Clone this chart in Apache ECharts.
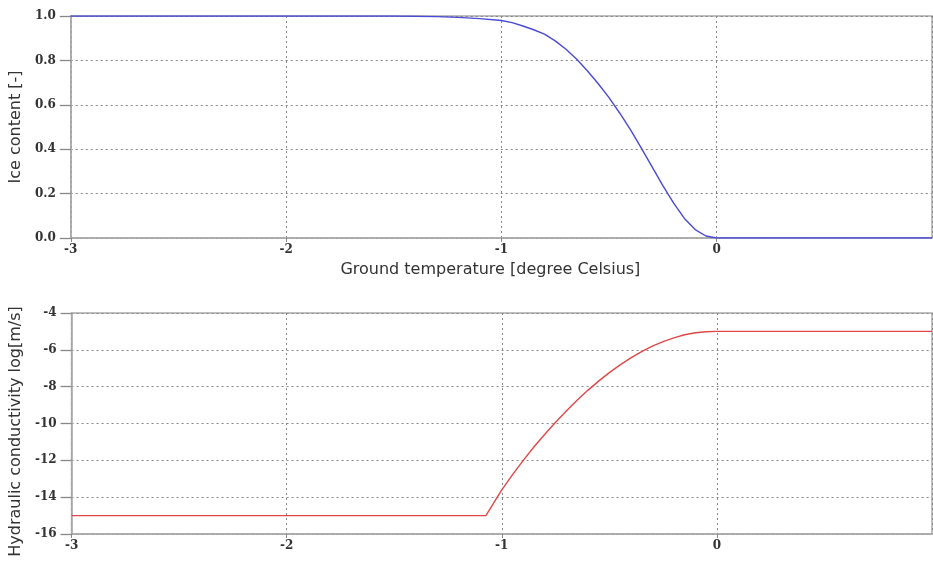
<!DOCTYPE html>
<html>
<head>
<meta charset="utf-8">
<script src="https://cdn.jsdelivr.net/npm/echarts@6/dist/echarts.min.js"></script>
<style>
  html, body { margin: 0; padding: 0; background: #fff; }
  #chart { width: 933px; height: 561px; }
</style>
</head>
<body>
<div id="chart"></div>
<script>
// ice content vs ground temperature
var iceTemp = [-3, -2, -1.5, -1.4, -1.3, -1.2, -1.1, -1.0, -0.95, -0.9, -0.85, -0.8, -0.75, -0.7, -0.65, -0.6, -0.55, -0.5, -0.45, -0.4, -0.35, -0.3, -0.25, -0.2, -0.15, -0.1, -0.05, 0, 1];
var iceContent = [1.0, 1.0, 1.0, 0.999, 0.997, 0.994, 0.988, 0.98, 0.97, 0.955, 0.938, 0.918, 0.888, 0.85, 0.805, 0.752, 0.695, 0.632, 0.562, 0.487, 0.405, 0.32, 0.236, 0.157, 0.088, 0.038, 0.009, 0.0, 0.0];

// hydraulic conductivity (log m/s) vs ground temperature
var condTemp = [-3, -1.074, -1.0, -0.95, -0.9, -0.85, -0.8, -0.75, -0.7, -0.65, -0.6, -0.55, -0.5, -0.45, -0.4, -0.35, -0.3, -0.25, -0.2, -0.15, -0.1, -0.05, 0, 1];
var condLog = [-15, -15, -13.6, -12.78, -12.0, -11.26, -10.58, -9.93, -9.32, -8.74, -8.2, -7.7, -7.24, -6.82, -6.44, -6.1, -5.8, -5.55, -5.35, -5.18, -5.07, -5.015, -5.0, -5.0];

var xTicks = [-3, -2, -1, 0, 1];
var iceTicks = [0.0, 0.2, 0.4, 0.6, 0.8, 1.0];
var condTicks = [-16, -14, -12, -10, -8, -6, -4];

function pairs(xs, ys) {
  return xs.map(function (x, i) { return [x, ys[i]]; });
}

var labelFont = {
  fontFamily: 'DejaVu Serif',
  fontWeight: 'bold',
  fontSize: 12,
  color: '#333'
};
var nameFont = {
  fontFamily: 'DejaVu Sans',
  fontSize: 16,
  color: '#333'
};
var dotted = { show: true, lineStyle: { color: '#888', type: [2, 3], width: 1 } };

function xAxis(gridIndex, name) {
  return {
    type: 'value',
    gridIndex: gridIndex,
    position: 'bottom',
    min: xTicks[0],
    max: xTicks[xTicks.length - 1],
    interval: 1,
    name: name,
    nameLocation: 'middle',
    nameGap: 24,
    nameTextStyle: Object.assign({ padding: [0, 22, 0, 0] }, nameFont),
    axisLine: { show: true, onZero: false, lineStyle: { color: '#aaa', width: 1.5 } },
    axisTick: { show: true, inside: false, length: 4, lineStyle: { color: '#888', width: 1 } },
    axisLabel: Object.assign({ margin: 6, showMaxLabel: false }, labelFont),
    splitLine: dotted
  };
}

function yAxis(gridIndex, name, ticks, step, digits, pad) {
  return {
    type: 'value',
    gridIndex: gridIndex,
    position: 'left',
    min: ticks[0],
    max: ticks[ticks.length - 1],
    interval: step,
    name: name,
    nameLocation: 'middle',
    nameGap: 35,
    nameTextStyle: Object.assign({ padding: pad }, nameFont),
    axisLine: { show: true, onZero: false, lineStyle: { color: '#aaa', width: 1.5 } },
    axisTick: { show: true, inside: false, length: 11, lineStyle: { color: '#888', width: 1.3 } },
    axisLabel: Object.assign({
      margin: 15,
      formatter: function (v) { return v.toFixed(digits); }
    }, labelFont),
    splitLine: dotted
  };
}

var chart = echarts.init(document.getElementById('chart'));
chart.setOption({
  backgroundColor: '#fff',
  animation: false,
  grid: [
    { left: 70, right: 1, top: 16, height: 222, show: true, borderColor: '#aaa', borderWidth: 1.5 },
    { left: 70, right: 1, top: 313, height: 221, show: true, borderColor: '#aaa', borderWidth: 1.5 }
  ],
  xAxis: [
    xAxis(0, 'Ground temperature [degree Celsius]'),
    xAxis(1, '')
  ],
  yAxis: [
    yAxis(0, 'Ice content [-]', iceTicks, 0.2, 1, 0),
    yAxis(1, 'Hydraulic conductivity log[m/s]', condTicks, 2, 0, [0, 16, 0, 0])
  ],
  series: [
    {
      type: 'line',
      xAxisIndex: 0,
      yAxisIndex: 0,
      data: pairs(iceTemp, iceContent),
      showSymbol: false,
      lineStyle: { color: '#4a4ad8', width: 1.4 }
    },
    {
      type: 'line',
      xAxisIndex: 1,
      yAxisIndex: 1,
      data: pairs(condTemp, condLog),
      showSymbol: false,
      lineStyle: { color: '#e04848', width: 1.4 }
    }
  ]
});
</script>
</body>
</html>
